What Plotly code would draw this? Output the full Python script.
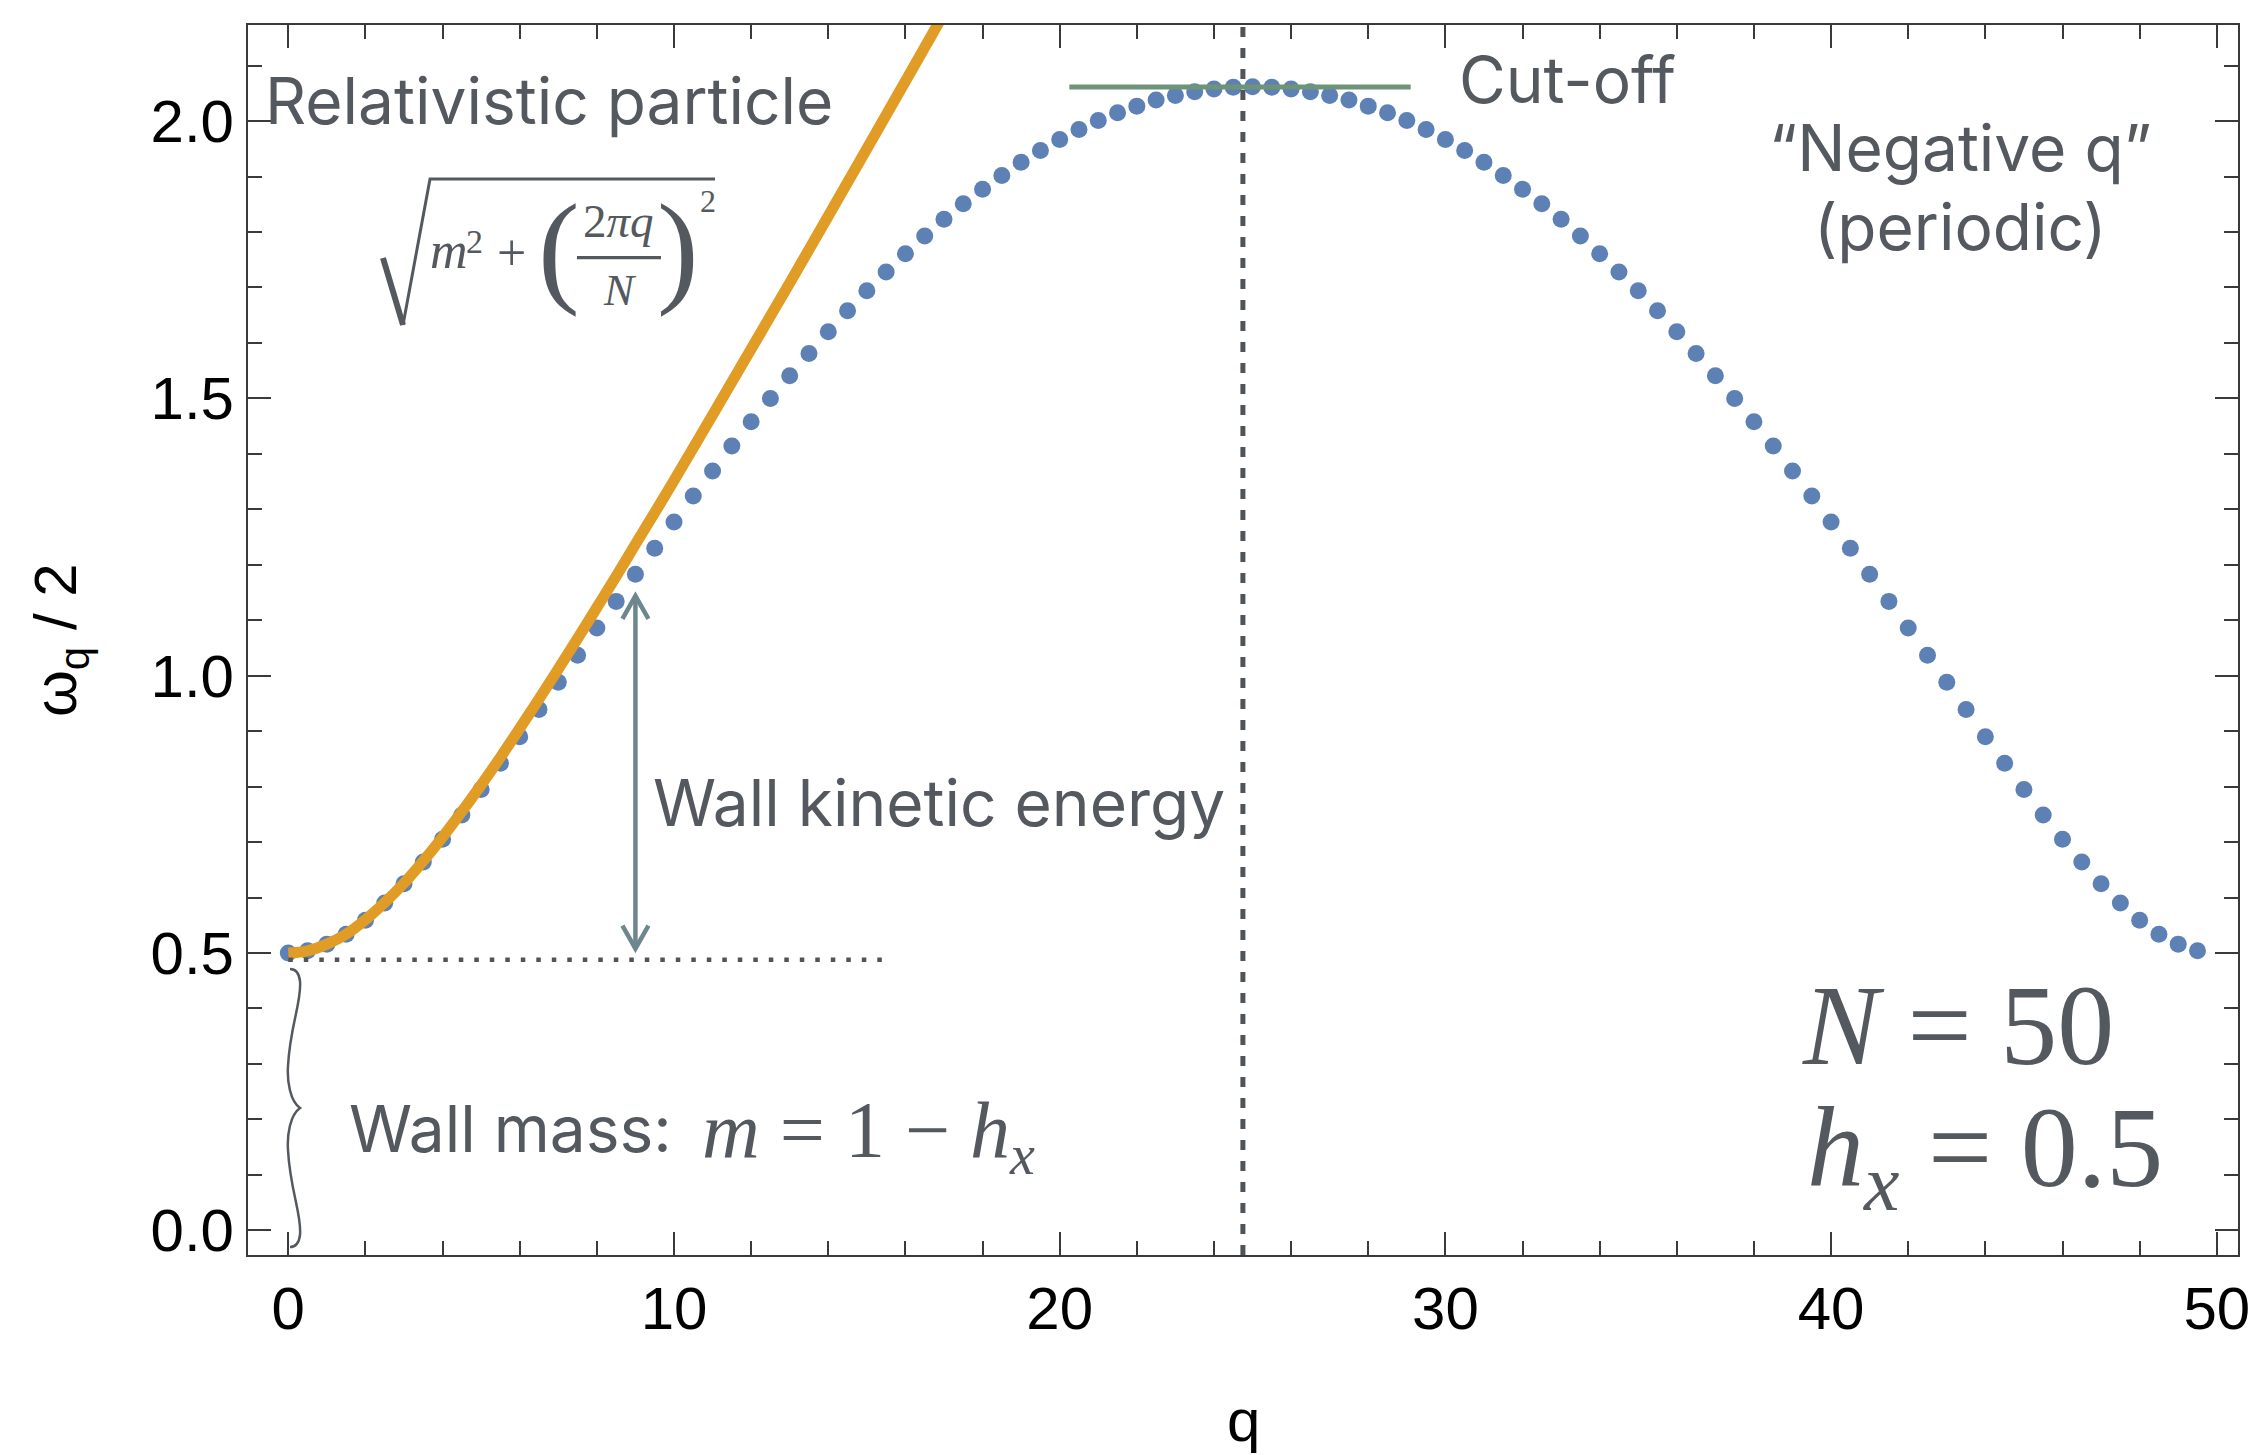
import plotly.graph_objects as go

# ---------------- data ----------------
Q = [0.0, 0.5, 1.0, 1.5, 2.0, 2.5, 3.0, 3.5, 4.0, 4.5, 5.0, 5.5, 6.0, 6.5, 7.0, 7.5, 8.0, 8.5, 9.0, 9.5,
     10.0, 10.5, 11.0, 11.5, 12.0, 12.5, 13.0, 13.5, 14.0, 14.5, 15.0, 15.5, 16.0, 16.5, 17.0, 17.5, 18.0, 18.5, 19.0, 19.5,
     20.0, 20.5, 21.0, 21.5, 22.0, 22.5, 23.0, 23.5, 24.0, 24.5, 25.0, 25.5, 26.0, 26.5, 27.0, 27.5, 28.0, 28.5, 29.0, 29.5,
     30.0, 30.5, 31.0, 31.5, 32.0, 32.5, 33.0, 33.5, 34.0, 34.5, 35.0, 35.5, 36.0, 36.5, 37.0, 37.5, 38.0, 38.5, 39.0, 39.5,
     40.0, 40.5, 41.0, 41.5, 42.0, 42.5, 43.0, 43.5, 44.0, 44.5, 45.0, 45.5, 46.0, 46.5, 47.0, 47.5, 48.0, 48.5, 49.0, 49.5]
OMEGA_HALF = [0.500, 0.504, 0.516, 0.534, 0.559, 0.590, 0.625, 0.664, 0.705, 0.749,
              0.795, 0.842, 0.890, 0.939, 0.988, 1.037, 1.086, 1.134, 1.183, 1.230,
              1.277, 1.324, 1.369, 1.414, 1.458, 1.500, 1.541, 1.581, 1.620, 1.658,
              1.694, 1.728, 1.761, 1.793, 1.823, 1.851, 1.877, 1.902, 1.926, 1.947,
              1.967, 1.985, 2.001, 2.015, 2.027, 2.038, 2.046, 2.053, 2.058, 2.061,
              2.062, 2.061, 2.058, 2.053, 2.046, 2.038, 2.027, 2.015, 2.001, 1.985,
              1.967, 1.947, 1.926, 1.902, 1.877, 1.851, 1.823, 1.793, 1.761, 1.728,
              1.694, 1.658, 1.620, 1.581, 1.541, 1.500, 1.458, 1.414, 1.369, 1.324,
              1.277, 1.230, 1.183, 1.134, 1.086, 1.037, 0.988, 0.939, 0.890, 0.842,
              0.795, 0.749, 0.705, 0.664, 0.625, 0.590, 0.559, 0.534, 0.516, 0.504]

Q_REL = [0.0, 0.5, 1.0, 1.5, 2.0, 2.5, 3.0, 3.5, 4.0, 4.5, 5.0, 5.5, 6.0, 6.5, 7.0, 7.5, 8.0, 8.5, 9.0, 9.5,
         10.0, 11.0, 12.0, 13.0, 14.0, 15.0, 16.0, 17.0]
OMEGA_REL = [0.500, 0.504, 0.516, 0.534, 0.560, 0.591, 0.626, 0.666, 0.709, 0.755, 0.803, 0.853, 0.905, 0.958,
             1.012, 1.067, 1.123, 1.179, 1.237, 1.294, 1.352, 1.470, 1.589, 1.708, 1.829, 1.950, 2.072, 2.194]

X_TICKS = [0, 10, 20, 30, 40, 50]
Y_TICKS = [0.0, 0.5, 1.0, 1.5, 2.0]
Y_TICK_TEXT = ["0.0", "0.5", "1.0", "1.5", "2.0"]

WALL_MASS_LEVEL = 0.488
CUTOFF = 2.0616
CUTOFF_Q = [20.25, 29.1]
Q_MID = 24.75
ARROW_Q = 9.0
ARROW_Y = [0.508, 1.144]
DOTTED_Q = [0.0, 15.6]

# ---------------- style ----------------
W, H = 2254, 1455
ML, MR, MT, MB = 248, 16, 25, 200
PW, PH = W - ML - MR, H - MT - MB
X_RANGE = [-1.0449, 50.550]
Y_RANGE = [-0.04454, 2.17328]

BLUE = "#5E81B5"
ORANGE = "#E09C24"
TXT = "#545960"
ARROWC = "#6E878F"
GREEN = "#6E9478"
DARK = "#4F545B"
FRAME = "#3A3A3A"
SANS = "Inter"
SERIF = "Times New Roman, Liberation Serif, Tinos, Times, serif"


def fx(px):
    return (px - ML) / PW


def fy(py):
    return (H - MB - py) / PH


def dxp(px):  # pixel offset -> data x offset
    return px * (X_RANGE[1] - X_RANGE[0]) / PW


def dyp(py):
    return py * (Y_RANGE[1] - Y_RANGE[0]) / PH


fig = go.Figure()
fig.add_trace(go.Scatter(x=Q, y=OMEGA_HALF, mode="markers",
                         marker=dict(size=17, color=BLUE, line=dict(width=0)),
                         showlegend=False, hoverinfo="skip"))
fig.add_trace(go.Scatter(x=Q_REL, y=OMEGA_REL, mode="lines",
                         line=dict(color=ORANGE, width=11, shape="spline"),
                         showlegend=False, hoverinfo="skip"))

shapes = []
# dashed vertical line
shapes.append(dict(type="line", xref="x", yref="paper", x0=Q_MID, x1=Q_MID, y0=0, y1=1,
                   line=dict(color=DARK, width=5, dash="10px,11px")))
# dotted wall-mass line
shapes.append(dict(type="line", xref="x", yref="y", x0=DOTTED_Q[0], x1=DOTTED_Q[1],
                   y0=WALL_MASS_LEVEL, y1=WALL_MASS_LEVEL,
                   line=dict(color=DARK, width=4.5, dash="4.5px,11px")))
# cut-off line
shapes.append(dict(type="line", xref="x", yref="y", x0=CUTOFF_Q[0], x1=CUTOFF_Q[1],
                   y0=CUTOFF, y1=CUTOFF, line=dict(color=GREEN, width=5)))
# kinetic energy arrow
shapes.append(dict(type="line", xref="x", yref="y", x0=ARROW_Q, x1=ARROW_Q,
                   y0=ARROW_Y[0], y1=ARROW_Y[1], line=dict(color=ARROWC, width=4.5)))
wx, wy = dxp(13), dyp(23)
for yt, s in ((ARROW_Y[1], -1), (ARROW_Y[0], 1)):
    shapes.append(dict(type="path", xref="x", yref="y",
                       path=f"M {ARROW_Q - wx},{yt + s * wy} L {ARROW_Q},{yt} L {ARROW_Q + wx},{yt + s * wy}",
                       line=dict(color=ARROWC, width=4.5)))


def ppath(cmds):
    out = []
    for c in cmds:
        if isinstance(c, str):
            out.append(c)
        else:
            out.append(f"{fx(c[0]):.5f},{fy(c[1]):.5f}")
    return " ".join(out)


# curly brace
brace = ["M", (290, 969), "C", (295, 969), (299, 973), (300, 981),
         "C", (302, 1001), (290, 1026), (288, 1066),
         "C", (287, 1081), (290, 1101), (300, 1108),
         "C", (290, 1115), (287, 1135), (288, 1150),
         "C", (290, 1190), (302, 1215), (300, 1235),
         "C", (299, 1243), (295, 1247), (290, 1247)]
shapes.append(dict(type="path", xref="paper", yref="paper", path=ppath(brace),
                   line=dict(color=TXT, width=2.5)))
# radical sign
shapes.append(dict(type="path", xref="paper", yref="paper",
                   path=ppath(["M", (383, 258), "L", (403, 325)]),
                   line=dict(color=TXT, width=6)))
shapes.append(dict(type="path", xref="paper", yref="paper",
                   path=ppath(["M", (403, 325), "L", (430, 179), "L", (715, 179)]),
                   line=dict(color=TXT, width=3)))
# fraction bar
shapes.append(dict(type="line", xref="paper", yref="paper", x0=fx(577), x1=fx(661),
                   y0=fy(257.7), y1=fy(257.7), line=dict(color=TXT, width=3.3)))

ann = []


def A(text, xp, yp, size, family=SANS, xanchor="left", color=TXT, angle=0):
    ann.append(dict(text=text, x=fx(xp), y=fy(yp), xref="paper", yref="paper",
                    xanchor=xanchor, yanchor="middle", showarrow=False, textangle=angle,
                    font=dict(family=family, size=size, color=color)))


A("Relativistic particle", 263, 101, 64)
A("Cut-off", 1457, 79, 64)
A("\u201cNegative q\u201d", 1960, 147, 64, xanchor="center")
A("(periodic)", 1960, 227, 64, xanchor="center")
A("Wall kinetic energy", 651, 802, 64)
A("Wall mass:", 347, 1128, 64)
A("<i>m</i> = 1 \u2212 <i>h</i><sub><i>x</i></sub>", 700, 1135.5, 80, family=SERIF)
A("<i>N</i> = 50", 1800, 1025, 114, family=SERIF)
A("<i>h</i><sub><i>x</i></sub> = 0.5", 1805, 1155, 114, family=SERIF)
# formula pieces
A("<i>m</i>", 428, 250.5, 52, family=SERIF)
A("2", 474, 241.5, 34, family=SERIF, xanchor="center")
A("+", 511, 252.5, 52, family=SERIF, xanchor="center")
A("(", 559, 247.5, 125, family=SERIF, xanchor="center")
A(")", 677.5, 247.5, 125, family=SERIF, xanchor="center")
A("2<i>\u03c0q</i>", 618, 221, 47, family=SERIF, xanchor="center")
A("<i>N</i>", 619.5, 290, 45, family=SERIF, xanchor="center")
A("2", 707.5, 201, 32, family=SERIF, xanchor="center")
# axis titles
A("q", 1243, 1420, 60, family="Liberation Sans", xanchor="center", color="black")
A("\u03c9<sub>q</sub> / 2", 60, 640, 60, family="Liberation Sans", xanchor="center", color="black", angle=-90)

axis_common = dict(showline=True, linecolor=FRAME, linewidth=2, mirror="ticks", ticks="inside",
                   ticklen=23, tickwidth=1.5, tickcolor=FRAME, showgrid=False, zeroline=False,
                   tickfont=dict(family="Liberation Sans", size=60, color="black"))

fig.update_layout(
    width=W, height=H, margin=dict(l=ML, r=MR, t=MT, b=MB, autoexpand=False),
    paper_bgcolor="white", plot_bgcolor="white",
    xaxis=dict(range=X_RANGE, tickvals=X_TICKS, ticktext=[str(v) for v in X_TICKS],
               minor=dict(dtick=2, tick0=0, ticklen=14, tickwidth=1.5, tickcolor=FRAME,
                          ticks="inside", showgrid=False), **axis_common),
    yaxis=dict(range=Y_RANGE, tickvals=Y_TICKS, ticktext=Y_TICK_TEXT,
               minor=dict(dtick=0.1, tick0=0, ticklen=14, tickwidth=1.5, tickcolor=FRAME,
                          ticks="inside", showgrid=False), **axis_common),
    shapes=shapes, annotations=ann,
)

fig.write_html("out.html", config={"displayModeBar": False},
               post_script="document.body.style.margin='0';")
